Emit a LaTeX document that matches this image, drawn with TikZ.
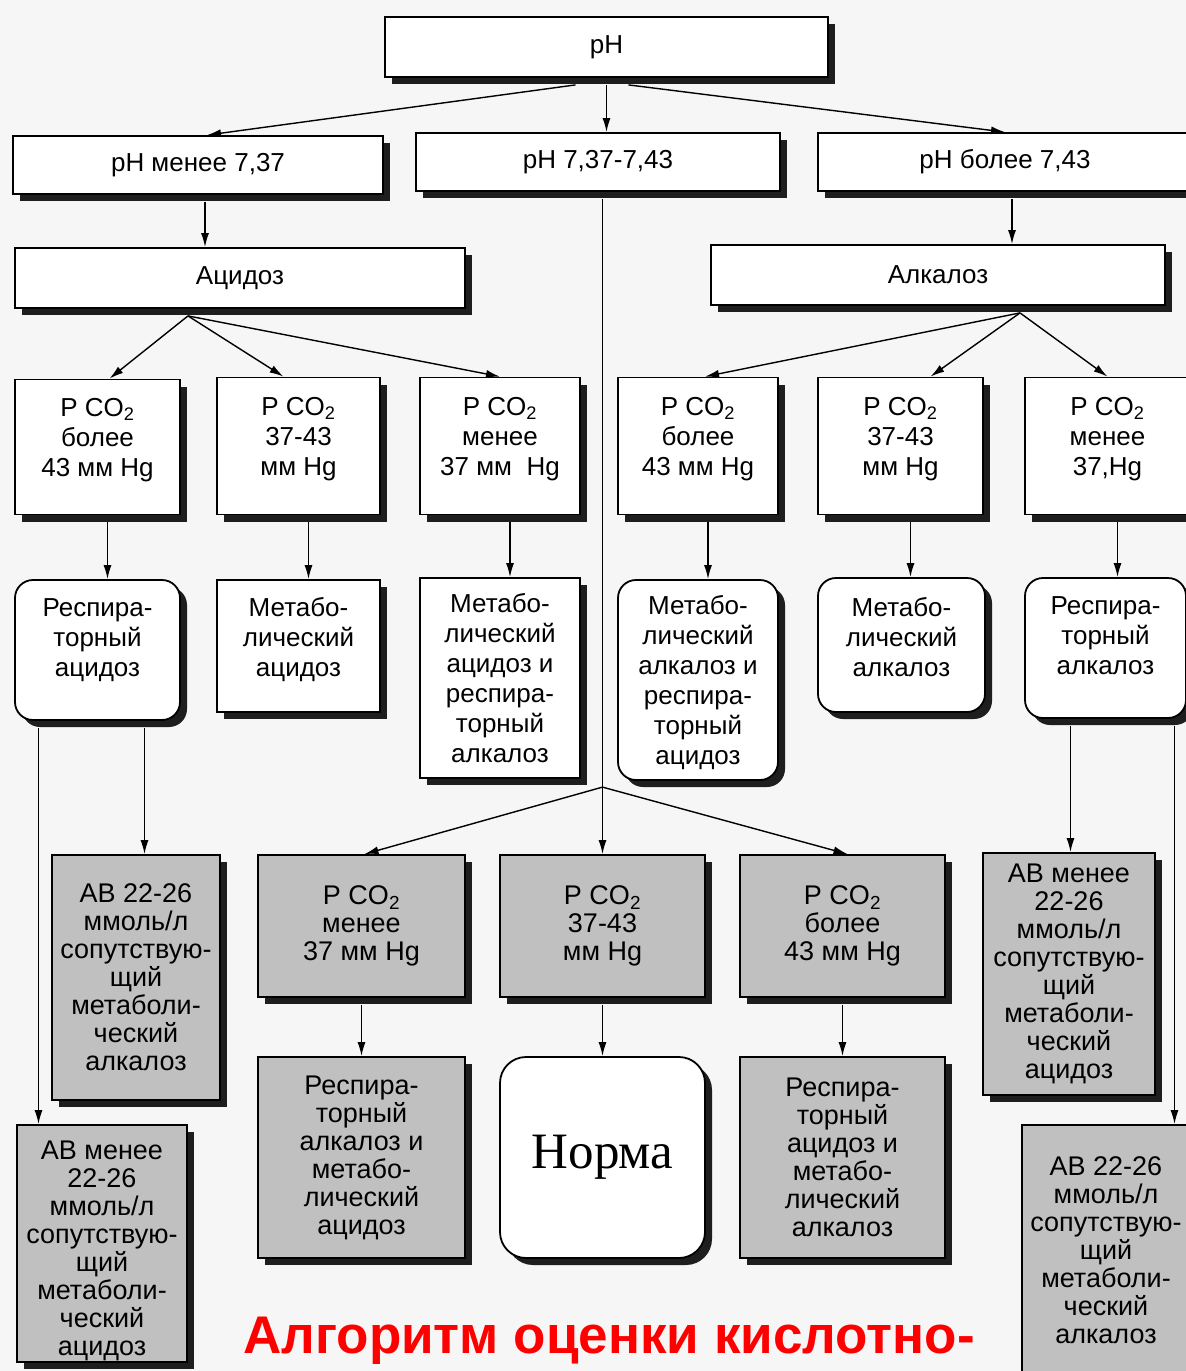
\documentclass[tikz,border=0pt]{standalone}
\usepackage{fontspec}
\setmainfont{Liberation Sans}
\newfontfamily\normfont{Liberation Serif}
\usetikzlibrary{arrows.meta,shadows,calc}
\definecolor{bgc}{HTML}{F6F6F6}
\definecolor{boxgray}{HTML}{C0C0C0}
\definecolor{shadowc}{HTML}{1E1E1E}
\tikzset{
  base/.style={draw=black, line width=1.8pt, inner sep=0pt, align=center,
    drop shadow={shadow xshift=7pt, shadow yshift=-7pt, fill=shadowc, opacity=1}},
  wbox/.style={base, fill=white, font=\fontsize{26}{30}\selectfont},
  rbox/.style={wbox, rounded corners=18pt},
  gbox/.style={base, fill=boxgray, font=\fontsize{27}{28}\selectfont},
  wtxt/.style={align=center, inner sep=0pt, font=\fontsize{26}{30}\selectfont},
  gtxt/.style={align=center, inner sep=0pt, font=\fontsize{27}{28}\selectfont},
  arr/.style={draw=black, line width=1.4pt, -{Latex[length=14pt,width=8pt]}},
}
\begin{document}
\begin{tikzpicture}[x=1pt,y=-1pt]
\useasboundingbox (0,0) rectangle (1186,1371);
\fill[bgc] (0,0) rectangle (1186,1371);
\clip (0,0) rectangle (1186,1371);

% level 1-2
\node[wbox, minimum width=443, minimum height=60] (pH) at (606.5,47) {pH};
\node[wbox, minimum width=370, minimum height=58] (L1) at (198,165) {pH менее 7,37};
\node[wbox, minimum width=364, minimum height=58] (Mid) at (598,162) {pH 7,37-7,43};
\node[wbox, minimum width=374, minimum height=58] (Rt) at (1005,162) {pH более 7,43};
\node[wbox, minimum width=450, minimum height=60] (Aci) at (240,278) {Ацидоз};
\node[wbox, minimum width=454, minimum height=60] (Alk) at (938,275) {Алкалоз};

% PCO2 row
\node[wbox, minimum width=165, minimum height=135] (A1) at (97.5,447) {};
\node[wtxt] (A1t) at ([yshift=7pt]A1.center) {P CO\textsubscript{2}\\более\\43 мм Hg};
\node[wbox, minimum width=163, minimum height=137] (A2) at (298.5,446) {};
\node[wtxt] (A2t) at ([yshift=7pt]A2.center) {P CO\textsubscript{2}\\37-43\\мм Hg};
\node[wbox, minimum width=160, minimum height=137] (A3) at (500,446) {};
\node[wtxt] (A3t) at ([yshift=7pt]A3.center) {P CO\textsubscript{2}\\менее\\37 мм\ \ Hg};
\node[wbox, minimum width=160, minimum height=137] (B1) at (698,446) {};
\node[wtxt] (B1t) at ([yshift=7pt]B1.center) {P CO\textsubscript{2}\\более\\43 мм Hg};
\node[wbox, minimum width=165, minimum height=137] (B2) at (900.5,446) {};
\node[wtxt] (B2t) at ([yshift=7pt]B2.center) {P CO\textsubscript{2}\\37-43\\мм Hg};
\node[wbox, minimum width=165, minimum height=137] (B3) at (1107.5,446) {};
\node[wtxt] (B3t) at ([yshift=7pt]B3.center) {P CO\textsubscript{2}\\менее\\37,Hg};

% result row
\node[rbox, minimum width=165, minimum height=140] (R1) at (97.5,650) {};
\node[wtxt] (R1t) at ([yshift=10pt]R1.center) {Респира-\\торный\\ацидоз};
\node[wbox, minimum width=163, minimum height=132] (R2) at (298.5,646) {};
\node[wtxt] (R2t) at ([yshift=6pt]R2.center) {Метабо-\\лический\\ацидоз};
\node[wbox, minimum width=160, minimum height=200] (R3) at (500,678) {};
\node[wtxt] (R3t) at (R3.center) {Метабо-\\лический\\ацидоз и\\респира-\\торный\\алкалоз};
\node[rbox, minimum width=160, minimum height=200] (R4) at (698,680) {};
\node[wtxt] (R4t) at ([yshift=-3pt]R4.center) {Метабо-\\лический\\алкалоз и\\респира-\\торный\\ацидоз};
\node[rbox, minimum width=167, minimum height=134] (R5) at (901.5,645) {};
\node[wtxt] (R5t) at ([yshift=8pt]R5.center) {Метабо-\\лический\\алкалоз};
\node[rbox, minimum width=161, minimum height=140] (R6) at (1105.5,648) {};
\node[wtxt] (R6t) at ([yshift=12pt]R6.center) {Респира-\\торный\\алкалоз};

% grey boxes
\node[gbox, minimum width=168, minimum height=245] (G1) at (136,977.5) {АВ 22-26\\ммоль/л\\сопутствую-\\щий\\метаболи-\\ческий\\алкалоз};
\node[gbox, minimum width=170, minimum height=237] (G2) at (102,1243.5) {};
\node[gtxt] (G2t) at ([yshift=-7pt]G2.center) {АВ менее\\22-26\\ммоль/л\\сопутствую-\\щий\\метаболи-\\ческий\\ацидоз};
\node[gbox, minimum width=207, minimum height=142] (M1) at (361.5,926) {P CO\textsubscript{2}\\менее\\37 мм Hg};
\node[gbox, minimum width=205, minimum height=142] (M2) at (602.5,926) {P CO\textsubscript{2}\\37-43\\мм Hg};
\node[gbox, minimum width=205, minimum height=142] (M3) at (842.5,926) {P CO\textsubscript{2}\\более\\43 мм Hg};
\node[gbox, minimum width=207, minimum height=201] (N1) at (361.5,1157.5) {Респира-\\торный\\алкалоз и\\метабо-\\лический\\ацидоз};
\node[base, fill=white, rounded corners=26pt, minimum width=205, minimum height=201,
      font=\normfont\fontsize{51}{56}\selectfont] (Norm) at (602.5,1157.5) {Норма};
\node[gbox, minimum width=205, minimum height=201] (N3) at (842.5,1157.5) {Респира-\\торный\\ацидоз и\\метабо-\\лический\\алкалоз};
\node[gbox, minimum width=172, minimum height=242] (G3) at (1069,974) {АВ менее\\22-26\\ммоль/л\\сопутствую-\\щий\\метаболи-\\ческий\\ацидоз};
\node[gbox, minimum width=168, minimum height=250] (G4) at (1106,1250) {АВ 22-26\\ммоль/л\\сопутствую-\\щий\\метаболи-\\ческий\\алкалоз};

% title
\node[font=\bfseries\fontsize{53}{58}\selectfont, text=red, inner sep=0pt, anchor=base] (title) at (609,1353) {Алгоритм оценки кислотно-};

% connectors: top
\draw[arr] ([xshift=-31pt,yshift=-7pt]pH.south) -- ([xshift=9pt]L1.north);
\draw[arr] ([yshift=-7pt]pH.south) -- (pH.south |- Mid.north);
\draw[arr] ([xshift=22pt,yshift=-7pt]pH.south) -- (Rt.north);
\draw[arr] ([xshift=7pt,yshift=-7pt]L1.south) -- ([xshift=7pt]L1.south |- Aci.north);
\draw[arr] ([xshift=7pt,yshift=-7pt]Rt.south) -- ([xshift=7pt]Rt.south |- Alk.north);

% acidosis fan
\draw[arr] ([xshift=-52pt,yshift=-7pt]Aci.south) -- ([xshift=12pt]A1.north);
\draw[arr] ([xshift=-52pt,yshift=-7pt]Aci.south) -- ([xshift=-15pt]A2.north);
\draw[arr] ([xshift=-52pt,yshift=-7pt]Aci.south) -- (A3.north);
% alkalosis fan
\draw[arr] ([xshift=82pt,yshift=-7pt]Alk.south) -- ([xshift=7pt]B1.north);
\draw[arr] ([xshift=82pt,yshift=-7pt]Alk.south) -- ([xshift=30pt]B2.north);
\draw[arr] ([xshift=82pt,yshift=-7pt]Alk.south) -- (B3.north);

% PCO2 -> results
\foreach \a/\b in {A1/R1,A2/R2,A3/R3,B1/R4,B2/R5,B3/R6}{
  \draw[arr] ([xshift=10pt,yshift=-7pt]\a.south) -- ([xshift=10pt]\a.south |- \b.north);
}

% results -> grey
\draw[arr] ([xshift=47pt,yshift=-7pt]R1.south) -- ([xshift=47pt]R1.south |- G1.north);
\draw[arr] ([xshift=-59pt,yshift=-7pt]R1.south) -- ([xshift=-59pt]R1.south |- G2.north);
\draw[arr] ([xshift=-35pt,yshift=-7pt]R6.south) -- ([xshift=-35pt]R6.south |- G3.north);
\draw[arr] ([xshift=69pt,yshift=-7pt]R6.south) -- ([xshift=69pt]R6.south |- G4.north);

% normal branch
\coordinate (br) at ($(M2.north)+(0,-67)$);
\draw[arr] ([yshift=-7pt]Mid.south -| M2.north) -- (M2.north);
\draw[arr] (br) -- ([xshift=3pt]M1.north);
\draw[arr] (br) -- ([xshift=5pt]M3.north);

\draw[arr] ([yshift=-7pt]M1.south) -- (N1.north);
\draw[arr] ([yshift=-7pt]M2.south) -- (Norm.north);
\draw[arr] ([yshift=-7pt]M3.south) -- (N3.north);
\end{tikzpicture}
\end{document}
